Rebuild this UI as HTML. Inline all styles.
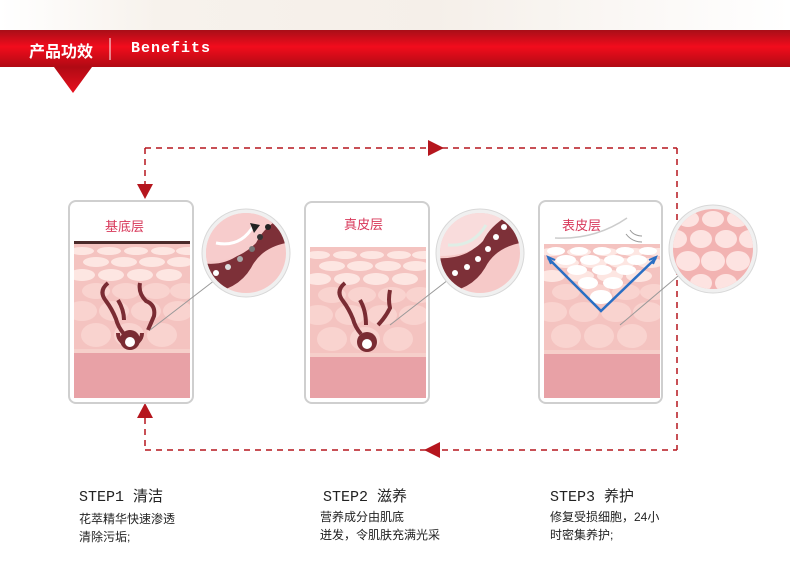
<!DOCTYPE html>
<html><head><meta charset="utf-8"><style>
html,body{margin:0;padding:0;background:#fff;}
body{width:790px;height:571px;position:relative;overflow:hidden;font-family:"Liberation Sans","Noto Sans CJK SC",sans-serif;}
.t{position:absolute;color:#222;}
.h{font-family:"Liberation Mono","Noto Sans CJK SC",monospace;font-size:15px;}
.d{font-size:12px;line-height:18px;}
</style></head><body>
<svg width="790" height="571" style="position:absolute;left:0;top:0">
<defs>
<linearGradient id="bar" x1="0" y1="0" x2="0" y2="1">
<stop offset="0" stop-color="#a80e18"/><stop offset="0.45" stop-color="#f20c1c"/><stop offset="1" stop-color="#b00a14"/></linearGradient>
<linearGradient id="tri" x1="0" y1="0" x2="0" y2="1"><stop offset="0" stop-color="#b00a14"/><stop offset="1" stop-color="#e8101e"/></linearGradient>
<linearGradient id="top" x1="0" y1="0" x2="1" y2="0"><stop offset="0" stop-color="#fff"/><stop offset="0.2" stop-color="#f7f2ec"/><stop offset="0.55" stop-color="#f5efe9"/><stop offset="1" stop-color="#fff"/></linearGradient>
<clipPath id="c1"><circle cx="0" cy="0" r="40"/></clipPath>
<clipPath id="k1"><rect x="74" y="200" width="116" height="198"/></clipPath>
<clipPath id="k2"><rect x="310" y="200" width="116" height="198"/></clipPath>
<clipPath id="k3"><rect x="544" y="200" width="116" height="198"/></clipPath>
<g id="skin">
<rect x="0" y="0" width="117" height="155" fill="#f4c3c0"/>
<g fill="#fde6e2">
<ellipse cx="8" cy="8" rx="12" ry="4"/><ellipse cx="35" cy="8" rx="12" ry="4"/><ellipse cx="62" cy="8" rx="12" ry="4"/><ellipse cx="89" cy="8" rx="12" ry="4"/><ellipse cx="114" cy="8" rx="12" ry="4"/>
<ellipse cx="22" cy="19" rx="13" ry="5"/><ellipse cx="50" cy="19" rx="13" ry="5"/><ellipse cx="78" cy="19" rx="13" ry="5"/><ellipse cx="106" cy="19" rx="13" ry="5"/>
<ellipse cx="8" cy="32" rx="13" ry="6"/><ellipse cx="37" cy="32" rx="13" ry="6"/><ellipse cx="66" cy="32" rx="13" ry="6"/><ellipse cx="95" cy="32" rx="13" ry="6"/>
</g>
<g fill="#f9d3cf">
<ellipse cx="22" cy="48" rx="14" ry="8"/><ellipse cx="52" cy="48" rx="14" ry="8"/><ellipse cx="82" cy="48" rx="14" ry="8"/><ellipse cx="110" cy="48" rx="14" ry="8"/>
<ellipse cx="8" cy="68" rx="15" ry="10"/><ellipse cx="40" cy="68" rx="15" ry="10"/><ellipse cx="72" cy="68" rx="15" ry="10"/><ellipse cx="104" cy="68" rx="15" ry="10"/>
<ellipse cx="22" cy="92" rx="15" ry="12"/><ellipse cx="55" cy="92" rx="15" ry="12"/><ellipse cx="88" cy="92" rx="15" ry="12"/>
</g>
<rect x="0" y="108" width="117" height="47" fill="#e8a1a6"/>
<rect x="0" y="106" width="117" height="4" fill="#f6cfca"/>
</g>
</defs>
<rect x="0" y="0" width="790" height="30" fill="url(#top)"/>
<rect x="0" y="30" width="790" height="37" fill="url(#bar)"/>
<polygon points="54,67 92,67 73,93" fill="url(#tri)"/>
<line x1="110" y1="38" x2="110" y2="60" stroke="#fff" stroke-width="1"/>
<g stroke="#b5161e" stroke-width="1.5" stroke-dasharray="6,5" fill="none">
<line x1="145" y1="148" x2="677" y2="148"/>
<line x1="145" y1="148" x2="145" y2="186"/>
<line x1="677" y1="148" x2="677" y2="450"/>
<line x1="145" y1="450" x2="677" y2="450"/>
<line x1="145" y1="418" x2="145" y2="450"/>
</g>
<g fill="#b5161e">
<polygon points="428,140 444,148 428,156"/>
<polygon points="137,184 153,184 145,199"/>
<polygon points="137,418 153,418 145,403"/>
<polygon points="440,442 440,458 424,450"/>
</g>
<!-- card1 -->
<rect x="69" y="201" width="124" height="202" rx="7" fill="#fff" stroke="#cfcfcf" stroke-width="2"/>
<g clip-path="url(#k1)"><use href="#skin" x="74" y="243"/></g>
<rect x="74" y="241" width="116" height="3" fill="#4a2a2a"/>
<path d="M108,283 q-10,8 -2,18 q6,8 10,18 q2,8 8,15 M140,283 q-2,10 6,18 q10,4 8,15 l-6,14 M118,300 q6,10 6,20 M118,333 a12,12 0 1 0 24,0" stroke="#7a2c33" stroke-width="4" fill="none"/>
<circle cx="130" cy="340" r="10" fill="#7a2c33"/><circle cx="130" cy="342" r="5" fill="#fff"/>
<line x1="150" y1="330" x2="215" y2="280" stroke="#999" stroke-width="1"/>
<!-- card2 -->
<rect x="305" y="202" width="124" height="201" rx="7" fill="#fff" stroke="#cfcfcf" stroke-width="2"/>
<g clip-path="url(#k2)"><use href="#skin" x="310" y="247"/></g>
<path d="M345,283 q-10,8 -2,18 q6,8 10,18 q2,8 8,15 M390,290 q-2,10 0,18 q-5,10 -12,17 M360,300 q6,10 6,25" stroke="#7a2c33" stroke-width="4" fill="none"/>
<circle cx="367" cy="342" r="10" fill="#7a2c33"/><circle cx="367" cy="344" r="5" fill="#fff"/>
<line x1="390" y1="325" x2="448" y2="280" stroke="#999" stroke-width="1"/>
<!-- card3 -->
<rect x="539" y="201" width="123" height="202" rx="7" fill="#fff" stroke="#cfcfcf" stroke-width="2"/>
<g clip-path="url(#k3)"><use href="#skin" x="544" y="244"/></g>
<g fill="#fff">
<ellipse cx="556" cy="251" rx="9" ry="4"/><ellipse cx="579" cy="251" rx="9" ry="4"/><ellipse cx="602" cy="251" rx="9" ry="4"/><ellipse cx="625" cy="251" rx="9" ry="4"/><ellipse cx="648" cy="251" rx="9" ry="4"/>
<ellipse cx="566" cy="260" rx="10" ry="5"/><ellipse cx="590" cy="260" rx="10" ry="5"/><ellipse cx="614" cy="260" rx="10" ry="5"/><ellipse cx="637" cy="260" rx="10" ry="5"/>
<ellipse cx="577" cy="270" rx="10" ry="5"/><ellipse cx="602" cy="270" rx="10" ry="5"/><ellipse cx="626" cy="270" rx="10" ry="5"/>
<ellipse cx="588" cy="283" rx="10" ry="6"/><ellipse cx="613" cy="283" rx="10" ry="6"/>
<ellipse cx="601" cy="297" rx="11" ry="7"/>
</g>
<path d="M548,258 L601,311 L656,258" stroke="#2a6fc4" stroke-width="2.5" fill="none"/>
<path d="M555,260 l-7,-3 l3,7 M649,260 l7,-3 l-3,7" stroke="#2a6fc4" stroke-width="2" fill="none"/>
<path d="M555,238 q40,2 72,-20" stroke="#ccc" stroke-width="1.5" fill="none"/>
<path d="M630,230 q4,6 12,6 M626,234 q6,8 16,8" stroke="#999" stroke-width="1" fill="none"/>
<line x1="620" y1="325" x2="678" y2="276" stroke="#999" stroke-width="1"/>
<!-- circles -->
<g transform="translate(246,253)">
<circle r="44" fill="#f0f0f0" stroke="#d8d8d8"/>
<g clip-path="url(#c1)"><rect x="-40" y="-40" width="80" height="80" fill="#f6c9c8"/>
<path d="M-45,10 q30,5 50,-20 q12,-20 35,-30 l0,30 q-25,5 -35,25 q-15,25 -50,25 z" fill="#7d3038"/>
<path d="M-40,8 q30,2 50,-18 q10,-20 35,-30 l0,-10 l-85,0 z" fill="#f7cccc"/>
<circle cx="-30" cy="20" r="3" fill="#fff"/><circle cx="-18" cy="14" r="3" fill="#ddd"/><circle cx="-6" cy="6" r="3" fill="#aaa"/><circle cx="6" cy="-4" r="3" fill="#777"/><circle cx="14" cy="-16" r="3" fill="#333"/><circle cx="22" cy="-26" r="3" fill="#222"/>
<path d="M-30,-10 q25,5 38,-18" stroke="#fff" stroke-width="3" fill="none"/>
<polygon points="4,-30 14,-28 8,-20" fill="#222"/></g>
</g>
<g transform="translate(480,253)">
<circle r="44" fill="#f0f0f0" stroke="#d8d8d8"/>
<g clip-path="url(#c1)"><rect x="-40" y="-40" width="80" height="80" fill="#f6c9c8"/>
<path d="M-45,5 q30,2 45,-15 q12,-20 40,-35 l0,35 q-25,5 -35,25 q-15,25 -50,25 z" fill="#7d3038"/>
<path d="M-40,3 q30,0 43,-15 q10,-20 37,-33 l0,-10 l-80,0 z" fill="#f9dcdc"/>
<g fill="#fff"><circle cx="-25" cy="20" r="3"/><circle cx="-13" cy="14" r="3"/><circle cx="-2" cy="6" r="3"/><circle cx="8" cy="-4" r="3"/><circle cx="16" cy="-16" r="3"/><circle cx="24" cy="-26" r="3"/></g>
<path d="M-32,-8 q25,2 38,-20" stroke="#dfeee6" stroke-width="3" fill="none"/></g>
</g>
<g transform="translate(713,249)">
<circle r="44" fill="#f0f0f0" stroke="#d8d8d8"/>
<g clip-path="url(#c1)"><rect x="-40" y="-40" width="80" height="80" fill="#f2b3b2"/>
<g fill="#fde3e1"><ellipse cx="-25" cy="-30" rx="11" ry="8"/><ellipse cx="0" cy="-30" rx="11" ry="8"/><ellipse cx="25" cy="-30" rx="11" ry="8"/>
<ellipse cx="-37" cy="-10" rx="11" ry="9"/><ellipse cx="-12" cy="-10" rx="11" ry="9"/><ellipse cx="13" cy="-10" rx="11" ry="9"/><ellipse cx="37" cy="-10" rx="11" ry="9"/>
<ellipse cx="-25" cy="12" rx="12" ry="10"/><ellipse cx="0" cy="12" rx="12" ry="10"/><ellipse cx="25" cy="12" rx="12" ry="10"/>
<ellipse cx="-37" cy="34" rx="11" ry="9"/><ellipse cx="-12" cy="34" rx="11" ry="9"/><ellipse cx="13" cy="34" rx="11" ry="9"/><ellipse cx="37" cy="34" rx="11" ry="9"/></g></g>
</g>
</svg>
<div class="t" style="left:29px;top:38px;color:#fff;font-size:16px;font-weight:bold;">产品功效</div>
<div class="t" style="left:131px;top:40px;color:#fff;font-size:15px;font-weight:bold;font-family:'Liberation Mono',monospace;letter-spacing:1px">Benefits</div>
<div class="t" style="left:105px;top:216px;color:#d8385a;font-size:13px;">基底层</div>
<div class="t" style="left:344px;top:214px;color:#d8385a;font-size:13px;">真皮层</div>
<div class="t" style="left:562px;top:215px;color:#d8385a;font-size:13px;">表皮层</div>
<div class="t h" style="left:79px;top:485px;">STEP1 清洁</div>
<div class="t d" style="left:79px;top:510px;">花萃精华快速渗透<br>清除污垢;</div>
<div class="t h" style="left:323px;top:485px;">STEP2 滋养</div>
<div class="t d" style="left:320px;top:508px;">营养成分由肌底<br>迸发，令肌肤充满光采</div>
<div class="t h" style="left:550px;top:485px;">STEP3 养护</div>
<div class="t d" style="left:550px;top:508px;">修复受损细胞，24小<br>时密集养护;</div>
</body></html>
